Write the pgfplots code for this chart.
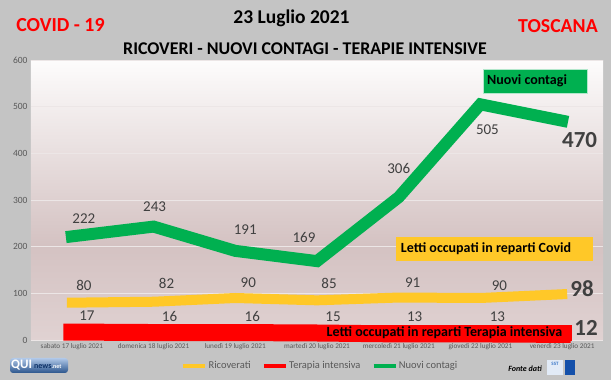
\documentclass[border=0pt]{standalone}
\usepackage{fontspec}
\setmainfont{Carlito}
\usepackage{pgfplots}
\pgfplotsset{compat=1.18}
\usepackage{pgfplotstable}
\definecolor{bggray}{RGB}{196,196,196}
\definecolor{cgreen}{RGB}{0,176,80}
\definecolor{cyellow}{RGB}{255,200,40}
\definecolor{cred}{RGB}{255,0,0}
\definecolor{txtgray}{RGB}{64,64,64}
\definecolor{axgray}{RGB}{89,89,89}
\definecolor{gridc}{RGB}{236,230,230}
\definecolor{bgtop}{RGB}{253,252,252}
\definecolor{bgmid}{RGB}{212,194,194}
\definecolor{bgbot}{RGB}{224,210,210}
\definecolor{logoblue}{RGB}{60,120,200}
\definecolor{sstblue}{RGB}{20,80,170}
\pgfdeclareverticalshading{plotbg}{100bp}{color(0bp)=(bgbot); color(25bp)=(bgbot); color(42bp)=(bgmid); color(75bp)=(bgtop); color(100bp)=(bgtop)}
\pgfdeclareverticalshading{logobg}{100bp}{color(0bp)=(logoblue!70!black); color(25bp)=(logoblue!70!black); color(75bp)=(logoblue!40!white); color(100bp)=(logoblue!40!white)}

\pgfplotstableread{
x y dx dy b
0 80 12 17 0
1 82 13 18 0
2 90 13 15 0
3 85 12 17 0
4 91 14 15 0
5 90 19 12 0
6 98 20 6 1
}\ricov
\pgfplotstableread{
x y dx dy b
0 17 15 16 0
1 16 16 16 0
2 16 17 16.5 0
3 15 16 16.5 0
4 13 16 17.5 0
5 13 17 17.5 0
6 12 24 6 1
}\terap
\pgfplotstableread{
x y dx dy b
0 222 12 18 0
1 243 1 20 0
2 191 10 21 0
3 169 -13 24 0
4 306 0 29 0
5 505 7 -25 0
6 470 17.5 -19 1
}\contagi

\pgfplotsset{
  /pgf/number format/assume math mode=true,
  lab/.style={
    nodes near coords,
    visualization depends on={\thisrow{dx}\as\mydx},
    visualization depends on={\thisrow{dy}\as\mydy},
    visualization depends on={\thisrow{b}\as\isbig},
    nodes near coords style={anchor=center, inner sep=0pt, xshift=\mydx pt, yshift=\mydy pt, text=txtgray,
      font={\ifdim\isbig pt>0.5pt \bfseries\fontsize{23}{23}\selectfont\else\fontsize{15}{15}\selectfont\fi}},
  },
}

\begin{document}
\begin{tikzpicture}[x=1pt,y=1pt]
\fill[bggray] (0,0) rectangle (611,380);
\begin{axis}[
  at={(31pt,40pt)}, anchor=south west, scale only axis,
  width=572pt, height=280pt,
  xmin=-0.5, xmax=6.5, ymin=0, ymax=600,
  ytick={0,100,...,600}, xtick={0,...,6},
  xticklabels={sabato 17 luglio 2021, domenica 18 luglio 2021, lunedì 19 luglio 2021, martedì 20 luglio 2021, mercoledì 21 luglio 2021, giovedì 22 luglio 2021, venerdì 23 luglio 2021},
  axis line style={draw=none}, major tick length=0pt,
  ymajorgrids, grid style={gridc, line width=0.8pt},
  axis background/.style={shading=plotbg},
  yticklabel style={font=\fontsize{9.5}{9.5}\selectfont, text=axgray},
  xticklabel style={font=\fontsize{7.2}{7.2}\selectfont, text=axgray},
  clip=false,
  legend columns=3,
  legend style={at={(0.262,-0.093)}, anchor=west, draw=none, fill=none, inner sep=0pt,
    font=\fontsize{10.5}{10.5}\selectfont, text=axgray,
    /tikz/every even column/.append style={column sep=10pt},
    nodes={inner sep=1pt}},
  legend image code/.code={\draw[#1, line width=4.5pt, line cap=butt] (0pt,0pt) -- (22pt,0pt);},
]
\addplot[cyellow, line width=10pt, line cap=rect, line join=miter, lab] table[x=x,y=y] {\ricov};
\addlegendentry{Ricoverati}
\addplot[cred, line width=17pt, line cap=rect, line join=miter, lab] table[x=x,y=y] {\terap};
\addlegendentry{Terapia intensiva}
\addplot[cgreen, line width=12pt, line cap=rect, line join=miter, lab] table[x=x,y=y] {\contagi};
\addlegendentry{Nuovi contagi}
\end{axis}
% titles
\node[anchor=base, font=\bfseries\fontsize{19.5}{19.5}\selectfont] at (291.5,356) {23 Luglio 2021};
\node[anchor=base, font=\bfseries\fontsize{17.9}{17.9}\selectfont] at (305,325) {RICOVERI - NUOVI CONTAGI - TERAPIE INTENSIVE};
\node[anchor=base, text=cred, font=\bfseries\fontsize{19.9}{19.9}\selectfont] at (60.5,348) {COVID - 19};
\node[anchor=base, text=cred, font=\bfseries\fontsize{19.8}{19.8}\selectfont] at (558,347) {TOSCANA};
% annotation boxes
\node[fill=cgreen, draw=white!70!cgreen, line width=0.4pt, minimum width=104pt, minimum height=24pt, inner sep=0pt, anchor=center, font=\bfseries\fontsize{14}{14}\selectfont] at (535,299) {\hspace*{-16pt}Nuovi contagi};
\node[fill=cyellow, minimum width=197pt, minimum height=24pt, inner sep=0pt, anchor=center, font=\bfseries\fontsize{14}{14}\selectfont] at (494.5,131) {\hspace*{-17pt}Letti occupati in reparti Covid};
\node[fill=cred, minimum width=250pt, minimum height=16pt, inner sep=0pt, anchor=center, font=\bfseries\fontsize{14}{14}\selectfont] at (447,47) {\hspace*{-5pt}Letti occupati in reparti Terapia intensiva};
% footer
\node[anchor=center, font=\bfseries\itshape\fontsize{8}{8}\selectfont] at (525,11) {Fonte dati};
\shade[shading=logobg, rounded corners=3pt] (10,7) rectangle (68,22);
\node[anchor=west, inner sep=0pt, text=white, font=\bfseries\fontsize{13}{13}\selectfont] at (11,14.5) {QUI};
\node[anchor=west, inner sep=0pt, text=sstblue!60!black, font=\bfseries\fontsize{8}{8}\selectfont] at (34,13.5) {news\textcolor{white}{\fontsize{6}{6}\selectfont.net}};
\fill[white!85!logoblue] (547,5) rectangle (563,20);
\node[text=logoblue, font=\bfseries\fontsize{5}{5}\selectfont, inner sep=0pt] at (555,16) {SST};
\fill[sstblue] (565,5) rectangle (575,20);
\end{tikzpicture}
\end{document}
